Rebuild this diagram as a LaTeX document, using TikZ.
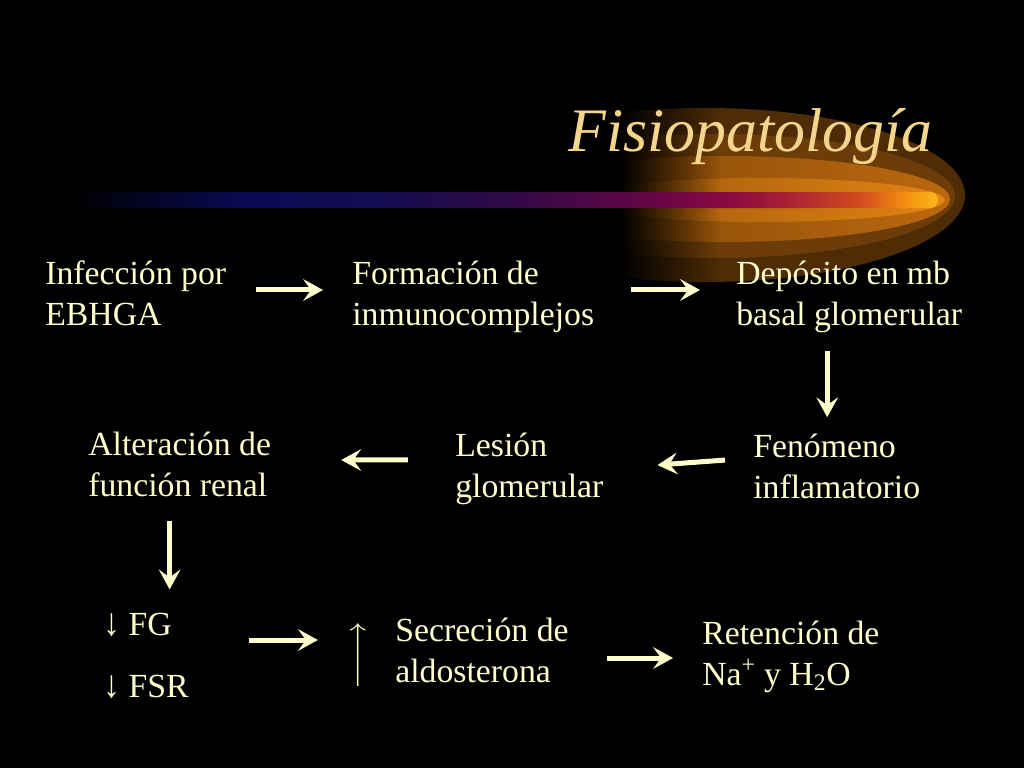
\documentclass[tikz,border=0pt]{standalone}
\usepackage{amsmath}
\usepackage{fontspec}
\setmainfont{Liberation Serif}
\usepackage{graphicx}
\usetikzlibrary{arrows.meta,calc,fadings,positioning}
\definecolor{crema}{RGB}{255,255,204}
\definecolor{oro}{RGB}{245,212,140}
\definecolor{brilloA}{RGB}{78,44,6}
\definecolor{brilloB}{RGB}{108,61,8}
\definecolor{brilloC}{RGB}{118,66,8}
\definecolor{brilloCc}{RGB}{188,104,14}
\definecolor{brilloD}{RGB}{148,84,10}
\definecolor{brilloDd}{RGB}{228,132,20}
\definecolor{barA}{RGB}{2,2,20}
\definecolor{barB}{RGB}{10,10,85}
\definecolor{barC}{RGB}{20,12,80}
\definecolor{barD}{RGB}{45,10,70}
\definecolor{barE}{RGB}{100,5,70}
\definecolor{barF}{RGB}{140,10,65}
\definecolor{barG}{RGB}{165,30,55}
\definecolor{barH}{RGB}{210,75,30}
\definecolor{barI}{RGB}{240,135,15}
\definecolor{barJ}{RGB}{255,185,25}
\pgfdeclarehorizontalshading{barra}{100bp}{color(0bp)=(black); color(25bp)=(black);
    color(27bp)=(barA); color(35bp)=(barB); color(42.7bp)=(barC); color(49.6bp)=(barD);
    color(58.3bp)=(barE); color(63bp)=(barF); color(66bp)=(barG); color(70.5bp)=(barH);
    color(72.8bp)=(barI); color(75bp)=(barJ); color(100bp)=(barJ)}
\tikzset{
    titulo/.style = {anchor=base west, inner sep=0pt, text=oro, font=\fontsize{44}{50}\selectfont\itshape},
    texto/.style = {anchor=base west, inner sep=0pt, align=left, text=crema, font=\fontsize{24}{28.5}\selectfont},
    flecha/.style = {draw=crema, line width=1.25mm, -{Stealth[length=5mm,width=5.5mm,inset=2mm,line width=0pt]}},
    sube/.style = {inner sep=0pt, text=crema, font=\fontsize{24}{28.5}\selectfont}
}
\newcommand{\baja}{\scalebox{1}[1.15]{↓}}
\begin{document}
\begin{tikzpicture}[x=0.025cm, y=-0.025cm]
    \fill[black] (0,0) rectangle (1024,768);

    % resplandor
    \begin{scope}
        \clip (622,95) rectangle (1000,300);
        \fill[brilloA] (705,195) ellipse [x radius=260, y radius=87];
        \fill[brilloB] (715,196) ellipse [x radius=240, y radius=62];
        \shade[left color=brilloC, right color=brilloCc] (725,199) ellipse [x radius=225, y radius=43];
        \shade[left color=brilloD, right color=brilloDd] (760,200) ellipse [x radius=185, y radius=22];
    \end{scope}
    \fill[black, path fading=east] (620,95) rectangle (720,300);
    \shade[shading=barra, rounded corners=2mm] (75,192) rectangle (938,208);

    \node[titulo] (tit) at (568,152) {Fisiopatología};

    \node[texto] (inf) at (45,325) {Infección por\\EBHGA};
    \node[texto] (form) at (352,325) {Formación de\\inmunocomplejos};
    \node[texto] (dep) at (736,325) {Depósito en mb\\basal glomerular};
    \node[texto] (fen) at (753,498) {Fenómeno\\inflamatorio};
    \node[texto] (les) at (455,497) {Lesión\\glomerular};
    \node[texto] (alt) at (88,496) {Alteración de\\función renal};
    \node[texto] (fg) at (103,635) {\baja{} FG};
    \node[texto] (fsr) at (103,697) {\baja{} FSR};
    \node[sube] (arriba) at (359,655) {$\left\uparrow\vcenter{\hbox{\rule{0pt}{12.5mm}}}\right.$};
    \node[texto] (sec) at (395,682) {Secreción de\\aldosterona};
    \node[texto] (ret) at (702,685) {Retención de\\Na\textsuperscript{+} y H\textsubscript{2}O};

    \draw[flecha, shorten <=7.5mm, shorten >=7.25mm] ([yshift=8.75mm]inf.base east) -- ([yshift=8.75mm]form.base west);
    \draw[flecha, shorten <=9.25mm, shorten >=9mm] ([yshift=8.75mm]form.base east) -- ([yshift=8.75mm]dep.base west);
    \draw[flecha, shorten <=4.5mm, shorten >=4.25mm] ([xshift=-5.5mm]dep.south) -- ([xshift=-5.5mm]dep.south |- fen.north);
    \draw[flecha, shorten <=7mm, shorten >=13.5mm] ([yshift=10mm]fen.base west) -- ([yshift=7mm]les.base east);
    \draw[flecha, shorten <=11.75mm, shorten >=17.5mm] ([yshift=9.25mm]les.base west) -- ([yshift=9mm]alt.base east);
    \draw[flecha, shorten <=6mm, shorten >=5.75mm] ([xshift=-2.5mm]alt.south) -- ([xshift=-2.5mm]alt.south |- fg.north);
    \draw[flecha, shorten <=19.25mm, shorten >=7.1mm] ([yshift=-1.25mm]fg.base east) -- ([yshift=-1.25mm]fg.base east -| arriba.west);
    \draw[flecha, shorten <=9.5mm, shorten >=7.25mm] ([yshift=6mm]sec.base east) -- ([yshift=6mm]sec.base east -| ret.west);
\end{tikzpicture}
\end{document}
